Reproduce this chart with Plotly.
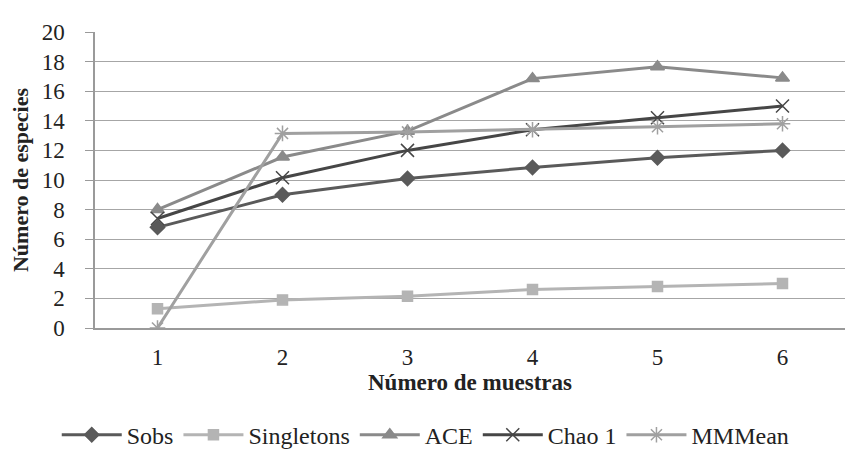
import plotly.graph_objects as go

muestras = [1, 2, 3, 4, 5, 6]
sobs = [6.8, 9.0, 10.1, 10.85, 11.5, 12.0]
singletons = [1.3, 1.9, 2.15, 2.6, 2.8, 3.0]
ace = [8.0, 11.55, 13.3, 16.85, 17.65, 16.9]
chao1 = [7.4, 10.15, 12.0, 13.4, 14.2, 15.0]
mmmean = [0.0, 13.15, 13.25, 13.4, 13.6, 13.8]

series = [
    ("Sobs", sobs, "#5a5a5a", "diamond", 11),
    ("Singletons", singletons, "#b4b4b4", "square", 10),
    ("ACE", ace, "#8a8a8a", "triangle-up", 12),
    ("Chao 1", chao1, "#464646", "x-thin", 13),
    ("MMMean", mmmean, "#a0a0a0", "asterisk", 13),
]

fig = go.Figure()
for name, vals, col, sym, sz in series:
    fig.add_trace(go.Scatter(
        x=muestras, y=vals, name=name, mode="lines+markers",
        line=dict(color=col, width=3),
        marker=dict(symbol=sym, size=sz, color=col, line=dict(color=col, width=1.5)),
    ))

font = "Liberation Serif"
fig.update_layout(
    width=857, height=466,
    margin=dict(l=87, r=20, t=24, b=146, autoexpand=False),
    paper_bgcolor="white", plot_bgcolor="white",
    font=dict(family=font, size=21, color="#222"),
    showlegend=True,
    legend=dict(orientation="h", x=0.441, xanchor="center", y=-0.286, yanchor="top",
                font=dict(family=font, size=24, color="#222"),
                itemwidth=60, tracegroupgap=0),
    xaxis=dict(range=[0.5, 6.5], tickvals=muestras, showgrid=False, zeroline=False,
               showline=True, linecolor="#9a9a9a", linewidth=1.5, automargin=False,
               ticklabelstandoff=8,
               tickfont=dict(family=font, size=23),
               title=dict(text="<b>Número de muestras</b>", font=dict(family=font, size=23),
                          standoff=4)),
    yaxis=dict(range=[0, 20], dtick=2, showgrid=True, gridcolor="#a6a6a6", gridwidth=1.2,
               zeroline=False, showline=True, linecolor="#9a9a9a", linewidth=1.5,
               automargin=False,
               ticks="outside", ticklen=8, tickcolor="#9a9a9a",
               ticklabelstandoff=16,
               tickfont=dict(family=font, size=23),
               title=dict(text="<b>Número de especies</b>", font=dict(family=font, size=22),
                          standoff=12)),
)
fig.write_html("out.html")
